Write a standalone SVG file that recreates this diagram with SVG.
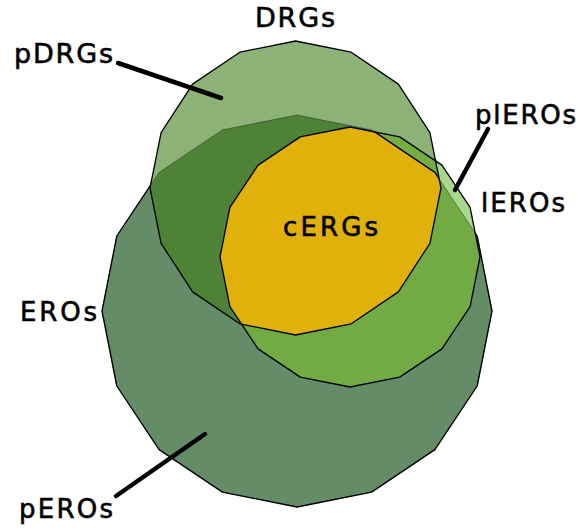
<svg xmlns="http://www.w3.org/2000/svg" xmlns:xlink="http://www.w3.org/1999/xlink" width="578" height="532" viewBox="0 0 578 532">
<style>
.lbl{font-family:"DejaVu Sans","Liberation Sans",sans-serif;font-size:26px;fill:#000;stroke:#000;stroke-width:0.6}
.ol{fill:none;stroke:#000;stroke-width:1.3;stroke-linejoin:round}
.faint{fill:none;stroke:#000;stroke-opacity:0.35;stroke-width:1}
.lead{stroke:#000;stroke-width:4.5;stroke-linecap:round;fill:none}
</style>
<defs>
<polygon id="pE" points="297,115 371.6,129.9 434.9,172.4 477.2,236 492,311 477.2,386 434.9,449.6 371.6,492.1 297,507 222.4,492.1 159.1,449.6 116.8,386 102,311 116.8,236 159.1,172.4 222.4,129.9"/>
<polygon id="pD" points="295.5,41 351.2,52.2 398.4,84.1 429.9,132.7 441,188 429.9,243.3 398.4,291.9 351.2,323.8 295.5,335 239.8,323.8 192.6,291.9 161.1,243.3 150,188 161.1,132.7 192.6,84.1 239.8,52.2"/>
<polygon id="pL" points="350,127 399.7,136.9 441.9,165.1 470.1,207.3 480,257 470.1,306.7 441.9,348.9 399.7,377.1 350,387 300.3,377.1 258.1,348.9 229.9,306.7 220,257 229.9,207.3 258.1,165.1 300.3,136.9"/>
<clipPath id="cE"><use href="#pE"/></clipPath>
<clipPath id="cD"><use href="#pD"/></clipPath>
<clipPath id="cL"><use href="#pL"/></clipPath>
</defs>
<rect width="578" height="532" fill="#fff"/>
<g id="EROs">
<use href="#pE" class="ol" style="fill:#638c67"/>
</g>
<g id="DRGs">
<use href="#pD" fill="#8db277"/>
<g clip-path="url(#cE)"><use href="#pD" fill="#4e8237"/></g>
</g>
<g id="lEROs">
<use href="#pL" fill="#a9d78b"/>
<g clip-path="url(#cE)"><use href="#pL" fill="#72aa43"/></g>
<g clip-path="url(#cD)"><use href="#pL" fill="#74ad42"/></g>
</g>
<use href="#pE" class="faint"/>
<g id="cERGs">
<g clip-path="url(#cD)"><g clip-path="url(#cE)"><use href="#pL" fill="#e1b10b"/></g></g>
<g clip-path="url(#cD)"><g clip-path="url(#cL)"><use href="#pE" class="ol"/></g></g>
</g>
<g id="outlines">
<use href="#pD" class="ol"/>
<use href="#pL" class="ol"/>
</g>
<g id="connectors">
<line class="lead" x1="118" y1="63" x2="221" y2="98"/>
<line class="lead" x1="488" y1="129" x2="455" y2="190"/>
<line class="lead" x1="116" y1="496" x2="205" y2="434"/>
</g>
<g id="labels">
<text class="lbl" x="255" y="27" textLength="80" style="font-size:27px">DRGs</text>
<text class="lbl" x="14" y="63" textLength="99" style="font-size:27px">pDRGs</text>
<text class="lbl" x="475" y="124" textLength="101">plEROs</text>
<text class="lbl" x="481" y="212" textLength="84">lEROs</text>
<text class="lbl" x="283" y="236" textLength="95">cERGs</text>
<text class="lbl" x="20" y="321" textLength="77">EROs</text>
<text class="lbl" x="19" y="517.5" textLength="94">pEROs</text>
</g>
</svg>
